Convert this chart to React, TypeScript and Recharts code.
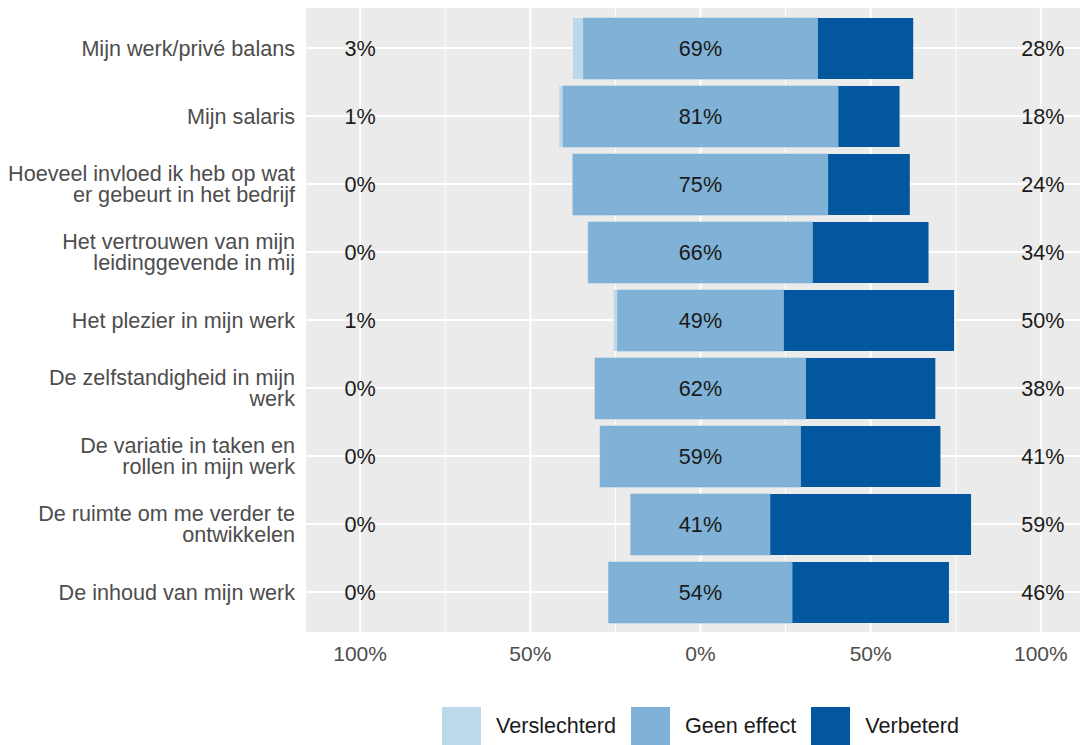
import React from 'react';
import {
  BarChart,
  Bar,
  XAxis,
  YAxis,
  CartesianGrid,
  ReferenceLine,
  Legend,
  LabelList,
} from 'recharts';

// ---- data ----
const categories = [
  'Mijn werk/privé balans',
  'Mijn salaris',
  'Hoeveel invloed ik heb op wat\ner gebeurt in het bedrijf',
  'Het vertrouwen van mijn\nleidinggevende in mij',
  'Het plezier in mijn werk',
  'De zelfstandigheid in mijn\nwerk',
  'De variatie in taken en\nrollen in mijn werk',
  'De ruimte om me verder te\nontwikkelen',
  'De inhoud van mijn werk',
];
const verslechterd = [3, 1, 0, 0, 1, 0, 0, 0, 0];
const geenEffect = [69, 81, 75, 66, 49, 62, 59, 41, 54];
const verbeterd = [28, 18, 24, 34, 50, 38, 41, 59, 46];

const majorTicks = [-100, -50, 0, 50, 100];
const minorTicks = [-75, -25, 25, 75];
const seriesNames = ['Verslechterd', 'Geen effect', 'Verbeterd'];

// ---- style ----
const FONT = '"Liberation Sans", Arial, Helvetica, sans-serif';
const FS = 21;
const FS_LABEL = 21.6;
const COLORS = ['#BDD7EB', '#80B1D6', '#03579E'];
const PANEL = '#EBEBEB';

const data = categories.map((name, i) => ({
  name,
  geenNeg: -geenEffect[i] / 2,
  geenPos: geenEffect[i] / 2,
  versl: -verslechterd[i],
  verb: verbeterd[i],
}));

const YTick = (props: any) => {
  const { x, y, payload } = props;
  const lines = String(payload.value).split('\n');
  const lh = 21;
  return (
    <text x={x} y={y} textAnchor="end" fill="#4D4D4D" fontSize={FS_LABEL} fontFamily={FONT}>
      {lines.map((l, i) => (
        <tspan key={i} x={x} dy={i === 0 ? -((lines.length - 1) / 2) * lh + 7.5 : lh}>
          {l}
        </tspan>
      ))}
    </text>
  );
};

const XTick = (props: any) => {
  const { x, y, payload } = props;
  return (
    <text x={x} y={y} dy={29} textAnchor="middle" fill="#4D4D4D" fontSize={FS} fontFamily={FONT}>
      {Math.abs(payload.value) + '%'}
    </text>
  );
};

const PctLabels = (props: any) => {
  const vb = props.viewBox ?? props;
  const { x, y, width, height } = vb;
  const i = categories.indexOf(props.value);
  if (i < 0 || !width) return null;
  const ppu = width / verbeterd[i];
  const zero = x - (geenEffect[i] / 2) * ppu;
  const cy = y + height / 2;
  const common = {
    textAnchor: 'middle' as const,
    fill: '#1A1A1A',
    fontSize: FS_LABEL,
    fontFamily: FONT,
    dy: 7.5,
  };
  return (
    <g>
      <text x={zero - 100 * ppu} y={cy} {...common}>{verslechterd[i] + '%'}</text>
      <text x={zero} y={cy} {...common}>{geenEffect[i] + '%'}</text>
      <text x={zero + 100 * ppu + 2} y={cy} {...common}>{verbeterd[i] + '%'}</text>
    </g>
  );
};

const renderLegend = () => (
  <div
    style={{
      display: 'flex',
      alignItems: 'center',
      paddingLeft: 442,
      fontFamily: FONT,
      fontSize: FS_LABEL,
      color: '#1A1A1A',
      height: 38,
    }}
  >
    {seriesNames.map((n, i) => (
      <div key={n} style={{ display: 'flex', alignItems: 'center', marginRight: 15 }}>
        <div style={{ width: 39, height: 38, background: COLORS[i] }} />
        <span style={{ marginLeft: 15 }}>{n}</span>
      </div>
    ))}
  </div>
);

export default function App() {
  return (
    <div
      style={{
        position: 'absolute',
        left: 0,
        top: 0,
        width: 1081,
        height: 745,
        overflow: 'hidden',
        background: '#FFFFFF',
      }}
    >
      <BarChart
        width={1081}
        height={745}
        data={data}
        layout="vertical"
        stackOffset="sign"
        margin={{ top: 8, right: 0, bottom: 0, left: 0 }}
      >
        <CartesianGrid
          fill={PANEL}
          stroke="#FFFFFF"
          strokeWidth={2}
          horizontal={false}
          vertical={true}
        />
        {minorTicks.map((t) => (
          <ReferenceLine
            key={'m' + t}
            x={t}
            stroke="#FFFFFF"
            strokeWidth={1}
            zIndex={-90}
          />
        ))}
        {categories.map((c) => (
          <ReferenceLine
            key={'h' + c}
            y={c}
            stroke="#FFFFFF"
            strokeWidth={2}
            zIndex={-90}
          />
        ))}
        <XAxis
          type="number"
          domain={[-116.2, 111.8]}
          ticks={majorTicks}
          allowDataOverflow
          axisLine={false}
          tickLine={false}
          tickSize={0}
          tickMargin={0}
          height={75}
          tick={<XTick />}
          interval={0}
        />
        <YAxis
          type="category"
          dataKey="name"
          width={305}
          axisLine={false}
          tickLine={false}
          tickSize={0}
          tickMargin={10}
          padding={{ top: 6, bottom: 6 }}
          tick={<YTick />}
          interval={0}
        />
        <Legend
          verticalAlign="bottom"
          align="left"
          height={38}
          content={renderLegend}
        />
        <Bar
          dataKey="geenNeg"
          stackId="a"
          fill={COLORS[1]}
          stroke={COLORS[1]}
          strokeWidth={0.6}
          barSize={61}
          isAnimationActive={false}
          legendType="none"
        />
        <Bar
          dataKey="geenPos"
          stackId="a"
          fill={COLORS[1]}
          stroke={COLORS[1]}
          strokeWidth={0.6}
          barSize={61}
          isAnimationActive={false}
          legendType="none"
        />
        <Bar
          dataKey="versl"
          stackId="a"
          fill={COLORS[0]}
          barSize={61}
          isAnimationActive={false}
        />
        <Bar
          dataKey="verb"
          stackId="a"
          fill={COLORS[2]}
          barSize={61}
          isAnimationActive={false}
        >
          <LabelList dataKey="name" content={PctLabels} />
        </Bar>
      </BarChart>
    </div>
  );
}
